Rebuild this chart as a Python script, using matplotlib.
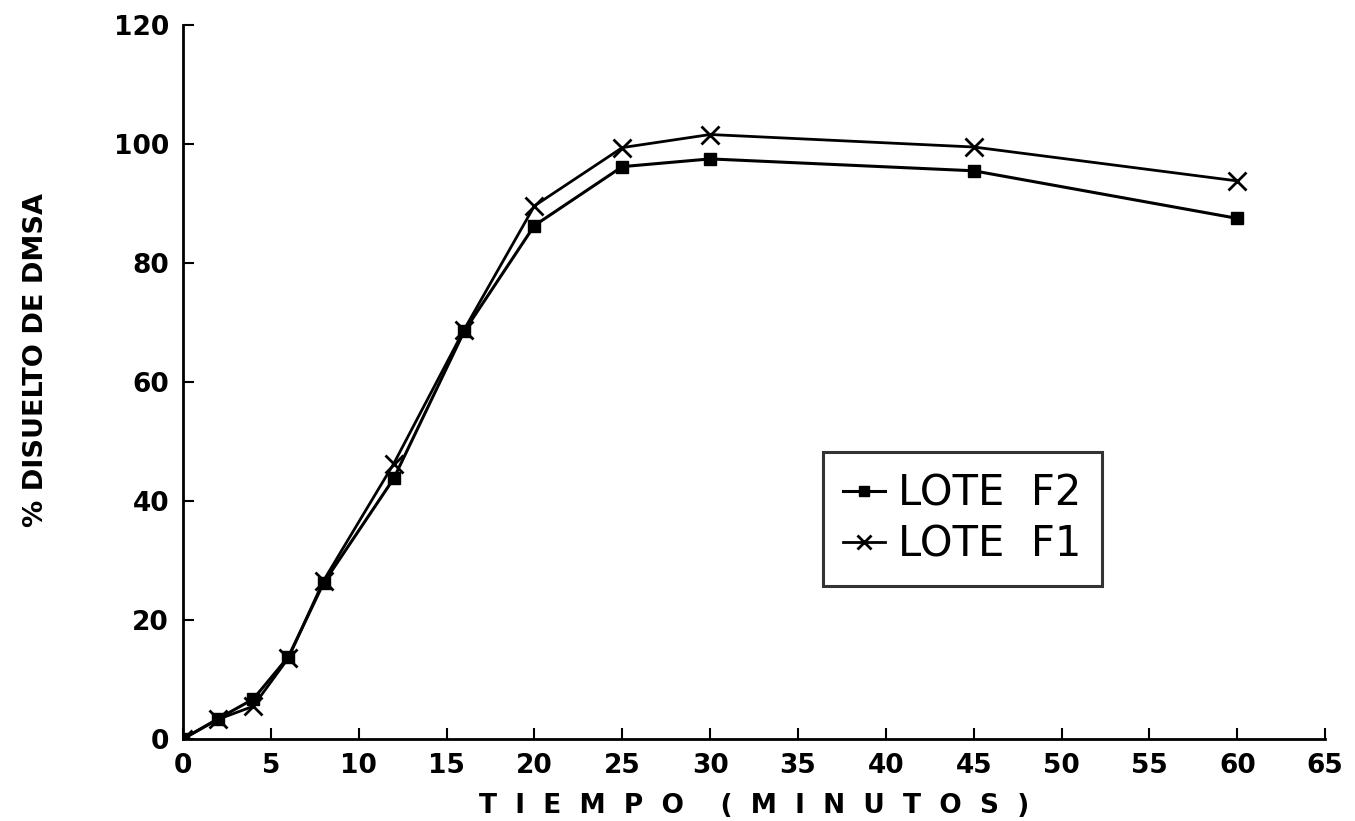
import matplotlib
matplotlib.use("Agg")
import matplotlib.pyplot as plt

tiempo = [0, 2, 4, 6, 8, 12, 16, 20, 25, 30, 45, 60]
lote_f2 = [0, 3.4, 6.7, 13.8, 26.2, 43.8, 68.5, 86.3, 96.2, 97.5, 95.5, 87.5]
lote_f1 = [0, 3.3, 5.5, 13.6, 26.6, 46.3, 68.8, 89.6, 99.4, 101.6, 99.5, 93.8]
xticks = list(range(0, 66, 5))
yticks = list(range(0, 121, 20))

fig = plt.figure(figsize=(13.55, 8.21), dpi=100)
ax = fig.add_axes([0.135, 0.0999, 0.843, 0.8696])

ax.plot(tiempo, lote_f2, color="black", lw=2.2, marker="s", markersize=9,
        markerfacecolor="black", markeredgecolor="black", label="LOTE F2")
ax.plot(tiempo, lote_f1, color="black", lw=2.0, marker="x", markersize=13,
        markeredgewidth=2.0, label="LOTE F1")

ax.set_xlim(0, 65)
ax.set_ylim(0, 120)
ax.set_xticks(xticks)
ax.set_yticks(yticks)
ax.spines["top"].set_visible(False)
ax.spines["right"].set_visible(False)
ax.spines["left"].set_linewidth(2)
ax.spines["bottom"].set_linewidth(2)
ax.tick_params(axis="both", direction="in", length=8, width=1.5)
ax.tick_params(axis="x", pad=10)
ax.tick_params(axis="y", pad=10)
for lab in ax.get_xticklabels() + ax.get_yticklabels():
    lab.set_fontsize(19)
    lab.set_fontweight("bold")

ax.set_xlabel("T  I  E  M  P  O    (  M  I  N  U  T  O  S  )", fontsize=19,
              fontweight="bold", labelpad=10)
ax.set_ylabel("% DISUELTO DE DMSA", fontsize=19.5, fontweight="bold")
ax.yaxis.set_label_coords(-0.117, 0.531)

leg = ax.legend(loc="upper left", bbox_to_anchor=(0.560, 0.402), frameon=True,
                fancybox=False, edgecolor="black", fontsize=30, handlelength=1.0,
                handletextpad=0.3, borderpad=0.5, labelspacing=0.2,
                borderaxespad=0, markerscale=0.8)
leg.get_frame().set_linewidth(2.2)
for t in leg.get_texts():
    t.set_text(t.get_text().replace(" ", "  "))

fig.savefig("out.png", dpi=100, facecolor="white")
